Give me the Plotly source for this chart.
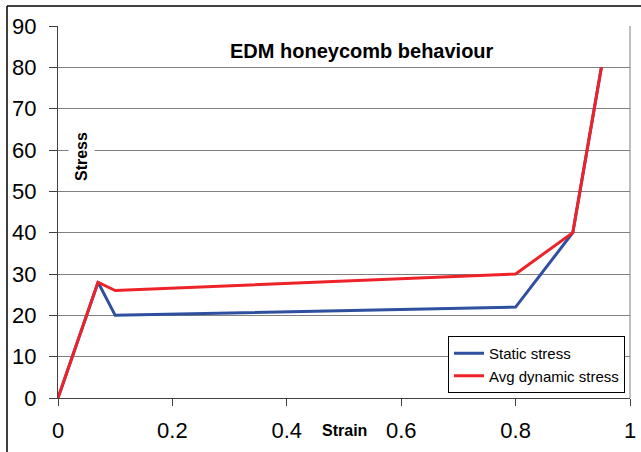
import plotly.graph_objects as go

strain = [0, 0.07, 0.1, 0.8, 0.9, 0.95]
static_stress = [0, 28, 20, 22, 40, 80]
dynamic_stress = [0, 28, 26, 30, 40, 80]
x_ticks = [0, 0.2, 0.4, 0.6, 0.8, 1]
x_tick_labels = ["0", "0.2", "0.4", "0.6", "0.8", "1"]
y_ticks = [0, 10, 20, 30, 40, 50, 60, 70, 80, 90]

W, H = 641, 452
L, R, T, B = 58, 11, 26, 54
pw, ph = W - L - R, H - T - B

def px(xp):
    return (xp - L) / pw

def py(yp):
    return (H - B - yp) / ph

fig = go.Figure()
fig.add_trace(go.Scatter(x=strain, y=static_stress, mode="lines", name="Static stress",
                         line=dict(color="#2f4f9f", width=3)))
fig.add_trace(go.Scatter(x=strain, y=dynamic_stress, mode="lines", name="Avg dynamic stress",
                         line=dict(color="#ee2229", width=3)))

fig.update_layout(
    width=W, height=H,
    margin=dict(l=L, r=R, t=T, b=B, pad=0, autoexpand=False),
    paper_bgcolor="white", plot_bgcolor="white",
    font=dict(family="Liberation Sans, Arial", color="black"),
    showlegend=True,
    legend=dict(x=px(625), y=py(393), xanchor="right", yanchor="bottom",
                bgcolor="white", bordercolor="black", borderwidth=1,
                font=dict(size=15, family="Liberation Sans, Arial"),
                tracegroupgap=0, itemwidth=30),
    xaxis=dict(range=[0, 1], tickvals=x_ticks, ticktext=x_tick_labels,
               showgrid=False, zeroline=False, showline=True, linecolor="#404040", linewidth=1,
               ticks="outside", ticklen=7, tickcolor="#404040", automargin=False,
               tickfont=dict(size=22), ticklabelstandoff=6),
    yaxis=dict(range=[0, 90], tickvals=y_ticks, showgrid=True, gridcolor="#808080", gridwidth=1,
               zeroline=False, showline=True, linecolor="#404040", linewidth=1,
               ticks="outside", ticklen=8, tickcolor="#404040", automargin=False,
               tickfont=dict(size=22), ticklabelstandoff=8),
    shapes=[
        dict(type="line", xref="paper", yref="paper", x0=1, x1=1, y0=0, y1=1,
             line=dict(color="#808080", width=1)),
        dict(type="line", xref="paper", yref="paper",
             x0=px(7), x1=1.2, y0=py(6), y1=py(6),
             line=dict(color="black", width=1.5)),
        dict(type="line", xref="paper", yref="paper",
             x0=px(7), x1=px(7), y0=-0.3, y1=py(6),
             line=dict(color="black", width=1.5)),
    ],
    annotations=[
        dict(text="<b>EDM honeycomb behaviour</b>", x=px(362), y=py(51),
             xref="paper", yref="paper", xanchor="center", yanchor="middle",
             showarrow=False, font=dict(size=20)),
        dict(text="<b>Stress</b>", x=px(81), y=py(157),
             xref="paper", yref="paper", xanchor="center", yanchor="middle",
             showarrow=False, textangle=-90,
             bgcolor="white", borderpad=4, font=dict(size=16)),
        dict(text="<b>Strain</b>", x=px(344), y=py(431),
             xref="paper", yref="paper", xanchor="center", yanchor="middle",
             showarrow=False, font=dict(size=16)),
    ],
)

fig.write_html("out.html")
